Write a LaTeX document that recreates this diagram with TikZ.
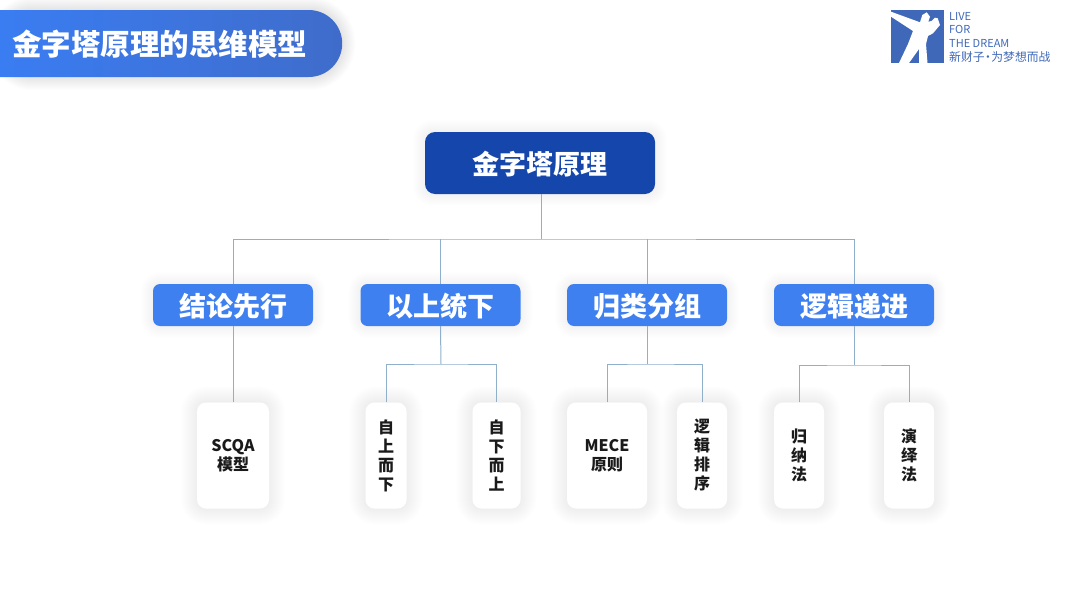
\documentclass[tikz,border=0pt]{standalone}
\usepackage{fontspec}
\setmainfont{Noto Sans CJK SC}
\usetikzlibrary{backgrounds,shapes.misc}
\definecolor{barcol}{HTML}{3A7DF2}
\definecolor{barend}{HTML}{3F6CCB}
\definecolor{rootcol}{HTML}{1546AB}
\definecolor{headcol}{HTML}{3F80F0}
\definecolor{linkcol}{HTML}{8FAFCB}
\definecolor{logocol}{HTML}{3F68B8}
\definecolor{leaftext}{HTML}{1A1A1A}
\tikzset{
  rootbox/.style={fill=rootcol,rounded corners=10pt,text=white,font=\fontsize{27}{32}\selectfont\bfseries,
    minimum width=230pt,minimum height=62pt,inner sep=0pt,text height=24.8pt,text depth=2.2pt},
  headbox/.style={fill=headcol,rounded corners=7pt,text=white,font=\fontsize{27}{32}\selectfont\bfseries,
    minimum width=160pt,minimum height=42pt,inner sep=0pt,text height=24.8pt,text depth=2.2pt},
  leafbox/.style={fill=white,rounded corners=9pt,text=leaftext,align=center,
    font=\fontsize{16}{19}\selectfont\bfseries,minimum height=106pt,inner sep=0pt},
  link/.style={draw=linkcol,line width=1pt},
  logotext/.style={text=logocol,anchor=west,inner sep=0pt,font=\fontsize{11}{13}\selectfont},
  softshade/.style={black,line width=#1,line join=round},
}
\begin{document}
\begin{tikzpicture}[x=1pt,y=-1pt]
\useasboundingbox (0,0) rectangle (1080,608);
% title bar
\node[rounded rectangle,rounded rectangle left arc=none,left color=barcol,right color=barend,
  minimum width=342pt,minimum height=67pt,inner sep=0pt,anchor=west] (titlebar) at (0,43.5) {};
\node[text=white,inner sep=0pt,font=\fontsize{29.5}{35}\selectfont\bfseries] (titletext) at (160,44) {金字塔原理的思维模型};
% logo
\fill[logocol] (891,10) rectangle (944,63);
\fill[white] (891,11.7) -- (920,22.3) -- (922.3,15) -- (926.7,12.3) -- (930,16.7) -- (928.3,21.7)
  -- (931.7,21) -- (935,17.7) -- (937.7,18.3) -- (940,25) -- (933,33.3) -- (928,36)
  -- (926,44) -- (927.5,63) -- (919,63) -- (919,49) -- (909,63) -- (899,63)
  -- (908,44) -- (913,31) -- (891,16.7) -- cycle;
\node[logotext] (logoa) at (949,16) {LIVE};
\node[logotext] (logob) at (949,29) {FOR};
\node[logotext] (logoc) at (949,43) {THE DREAM};
\node[logotext,font=\fontsize{11.8}{13}\selectfont] (logod) at (949,57) {新财子\kern-2.5pt·\kern-2.5pt为梦想而战};
% boxes
\node[rootbox] (root) at (540,163) {金字塔原理};
\node[headbox] (head1) at (233,305) {结论先行};
\node[headbox] (head2) at (440.5,305) {以上统下};
\node[headbox] (head3) at (647,305) {归类分组};
\node[headbox] (head4) at (854,305) {逻辑递进};
\node[leafbox,minimum width=72pt] (leaf1) at (233,455.5) {SCQA\\模型};
\node[leafbox,minimum width=41pt] (leaf2) at (386,455.5) {自\\上\\而\\下};
\node[leafbox,minimum width=48pt] (leaf3) at (496.5,455.5) {自\\下\\而\\上};
\node[leafbox,minimum width=80pt] (leaf4) at (607,455.5) {MECE\\原则};
\node[leafbox,minimum width=50pt] (leaf5) at (702,455.5) {逻\\辑\\排\\序};
\node[leafbox,minimum width=50pt] (leaf6) at (799,455.5) {归\\纳\\法};
\node[leafbox,minimum width=50pt] (leaf7) at (909,455.5) {演\\绎\\法};
% joints
\coordinate (rootj) at (541,239);
\coordinate (head2j) at (441,364);
\coordinate (head3j) at (647,364);
\coordinate (head4j) at (854,365);
% connectors
\draw[link] (root.south -| rootj) -- (rootj);
\draw[link] (head1.north) |- (rootj) -| (head4.north);
\draw[link] (head2.north |- rootj) -- (head2.north);
\draw[link] (head3.north |- rootj) -- (head3.north);
\draw[link] (head1.south) -- (leaf1.north);
\draw[link] (head2.south) -- (head2j);
\draw[link] (leaf2.north) |- (head2j) -| (leaf3.north);
\draw[link] (head3.south) -- (head3j);
\draw[link] (leaf4.north) |- (head3j) -| (leaf5.north);
\draw[link] (head4.south) -- (head4j);
\draw[link] (leaf6.north) |- (head4j) -| (leaf7.north);
% soft shadows
\begin{scope}[on background layer]
  \foreach \g in {2,4,...,26}
    \draw[softshade=\g pt,opacity=.009,rounded corners=33pt,yshift=-3pt]
      (titlebar.west |- titlebar.south) rectangle (titlebar.east |- titlebar.north);
  \foreach \n in {root,head1,head2,head3,head4} {
    \foreach \g in {2,4,...,24}
      \draw[softshade=\g pt,opacity=.004,rounded corners=8pt,yshift=-4pt]
        (\n.south west) rectangle (\n.north east);
  }
  \foreach \n in {leaf1,leaf2,leaf3,leaf4,leaf5,leaf6,leaf7} {
    \foreach \g in {2,4,...,32}
      \draw[softshade=\g pt,opacity=.005,rounded corners=9pt,yshift=-8pt]
        (\n.south west) rectangle (\n.north east);
  }
\end{scope}
\end{tikzpicture}
\end{document}
